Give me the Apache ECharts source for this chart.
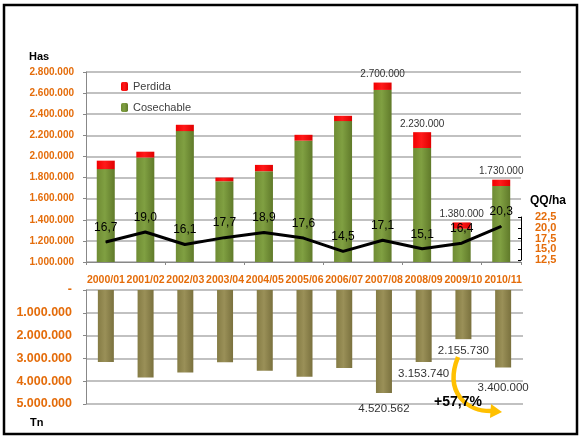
<!DOCTYPE html>
<html>
<head>
<meta charset="utf-8">
<script src="https://cdn.jsdelivr.net/npm/echarts@6/dist/echarts.min.js"></script>
<style>html,body{margin:0;padding:0;background:#fff}#c{width:584px;height:440px}</style>
</head>
<body>
<div id="c"></div>
<script>
var categories = ['2000/01','2001/02','2002/03','2003/04','2004/05','2005/06','2006/07','2007/08','2008/09','2009/10','2010/11'];
var cosechable = [1880000,1990000,2240000,1765000,1860000,2150000,2335000,2630000,2080000,1315000,1720000];
var perdida = [80000,55000,60000,35000,60000,55000,50000,70000,150000,60000,60000];
var totalLabels = ['','','','','','','','2.700.000','2.230.000','1.380.000','1.730.000'];
var rendimiento = [16.7,19.0,16.1,17.7,18.9,17.6,14.5,17.1,15.1,16.4,20.3];
var qqTicks = [12.5,15.0,17.5,20.0,22.5];
var produccion = [3160000,3840000,3620000,3170000,3540000,3800000,3420000,4520562,3153740,2155730,3400000];
var produccionLabels = ['','','','','','','','4.520.562','3.153.740','2.155.730','3.400.000'];
var variacionTexto = '+57,7%';

var orange = '#E46C0A';
var gridColor = '#ADADAD';
var font = 'Liberation Sans, Arial, sans-serif';
function fmtDots(v){ return String(Math.round(v)).replace(/\B(?=(\d{3})+(?!\d))/g,'.'); }
function fmtComma(v){ return v.toFixed(1).replace('.',','); }

var bottomLabelDistance = {7: 10, 10: 14};

// QQ/ha axis: 12.5 -> y 260, 22.5 -> y 217 ; second helper grid extends the same scale by one step each side
var qqTop = 217, qqHeight = 43, qqStep = qqHeight / 4;
var qqOdd = qqTicks.filter(function(v,i){ return i % 2 === 0; });
var qqEven = qqTicks.filter(function(v,i){ return i % 2 === 1; });
var qqLabelStyle = {color: orange, fontWeight: 'bold', fontSize: 11, margin: 14, formatter: fmtComma, fontFamily: font};

var chart = echarts.init(document.getElementById('c'), null, {renderer:'canvas'});
var option = {
  animation: false,
  backgroundColor: '#fff',
  textStyle: {fontFamily: font},
  grid: [
    {left: 86, top: 72, width: 435, height: 190},
    {left: 86, top: 290, width: 437, height: 114},
    {left: 86, top: qqTop, width: 435, height: qqHeight},
    {left: 86, top: qqTop - qqStep, width: 435, height: qqHeight + 2 * qqStep}
  ],
  legend: {
    orient: 'vertical', left: 116, top: 76, itemWidth: 7, itemHeight: 9, itemGap: 10,
    data: ['Perdida','Cosechable'],
    textStyle: {fontSize: 11, color: '#404040', fontFamily: font}
  },
  xAxis: [
    {gridIndex: 0, type: 'category', data: categories,
     axisLine: {lineStyle: {color: '#888', width: 1}},
     axisTick: {show: true, length: 3, lineStyle: {color: '#888'}},
     axisLabel: {show: false}},
    {gridIndex: 1, type: 'category', data: categories, position: 'top',
     axisLine: {show: false}, axisTick: {show: false},
     axisLabel: {color: orange, fontWeight: 'bold', fontSize: 10.5, margin: 4, interval: 0, fontFamily: font}},
    {gridIndex: 2, type: 'category', data: categories, show: false},
    {gridIndex: 3, type: 'category', data: categories, show: false}
  ],
  yAxis: [
    {gridIndex: 0, type: 'value', min: 1000000, max: 2800000, interval: 200000,
     axisLine: {show: true, lineStyle: {color: '#888'}},
     axisTick: {show: true, length: 3, lineStyle: {color: '#888'}},
     splitLine: {lineStyle: {color: gridColor, width: 1.5}},
     axisLabel: {color: orange, fontWeight: 'bold', fontSize: 10, margin: 12, formatter: fmtDots, fontFamily: font}},
    {gridIndex: 1, type: 'value', min: 0, max: 5000000, interval: 1000000, inverse: true,
     axisLine: {show: true, lineStyle: {color: '#888'}},
     axisTick: {show: true, length: 3, lineStyle: {color: '#888'}},
     splitLine: {lineStyle: {color: gridColor, width: 1.5}},
     axisLabel: {color: orange, fontWeight: 'bold', fontSize: 12.5, margin: 14, fontFamily: font,
       formatter: function(v){ return v === 0 ? '-' : fmtDots(v); }}},
    {gridIndex: 2, type: 'value', min: 12.5, max: 22.5, interval: 5, position: 'right',
     axisLine: {show: true, lineStyle: {color: '#000', width: 1}},
     axisTick: {show: true, inside: true, length: 3, lineStyle: {color: '#000'}},
     splitLine: {show: false},
     axisLabel: qqLabelStyle},
    {gridIndex: 3, type: 'value', min: 10, max: 25, interval: 5, position: 'right',
     axisLine: {show: false},
     axisTick: {show: true, inside: true, length: 3, customValues: qqEven, lineStyle: {color: '#000'}},
     splitLine: {show: false},
     axisLabel: Object.assign({customValues: qqEven}, qqLabelStyle)}
  ],
  series: [
    {name: 'Cosechable', type: 'bar', xAxisIndex: 0, yAxisIndex: 0, stack: 'has', barWidth: 18,
     data: cosechable,
     itemStyle: {color: new echarts.graphic.LinearGradient(0,0,1,0,[
       {offset:0,color:'#6f8c34'},{offset:0.45,color:'#80a042'},{offset:1,color:'#607a2a'}])}},
    {name: 'Perdida', type: 'bar', xAxisIndex: 0, yAxisIndex: 0, stack: 'has', barWidth: 18,
     data: perdida,
     itemStyle: {color: new echarts.graphic.LinearGradient(0,0,1,0,[
       {offset:0,color:'#f20000'},{offset:0.45,color:'#ff1a1a'},{offset:1,color:'#e00000'}])},
     label: {show: true, position: 'top', distance: 3, fontSize: 10, color: '#333', fontFamily: font,
       formatter: function(p){ return totalLabels[p.dataIndex]; }}},
    {name: 'Produccion', type: 'bar', xAxisIndex: 1, yAxisIndex: 1, barWidth: 16,
     data: produccion.map(function(v,i){
       var d = {value: v};
       if (bottomLabelDistance[i] !== undefined) d.label = {distance: bottomLabelDistance[i]};
       return d;
     }),
     itemStyle: {color: new echarts.graphic.LinearGradient(0,0,1,0,[
       {offset:0,color:'#857c45'},{offset:0.45,color:'#9a9058'},{offset:1,color:'#7a713e'}])},
     label: {show: true, position: 'bottom', distance: 6, fontSize: 11.5, color: '#333', fontFamily: font,
       formatter: function(p){ return produccionLabels[p.dataIndex]; }}},
    {name: 'QQ/ha', type: 'line', xAxisIndex: 2, yAxisIndex: 2, data: rendimiento,
     symbol: 'circle', symbolSize: 1, showSymbol: true, showAllSymbol: true,
     itemStyle: {color: '#000'},
     lineStyle: {color: '#000', width: 3}, z: 5,
     label: {show: true, position: 'top', distance: 8, fontSize: 12, color: '#000', fontFamily: font,
       formatter: function(p){ return fmtComma(p.value); }}}
  ],
  graphic: [
    {type: 'rect', shape: {x: 4, y: 5, width: 573, height: 429}, style: {fill: 'none', stroke: '#000', lineWidth: 2.5}, silent: true},
    {type: 'text', left: 29, top: 51, style: {text: 'Has', fontSize: 11, fontWeight: 'bold', fill: '#000', fontFamily: font}},
    {type: 'text', left: 30, top: 417, style: {text: 'Tn', fontSize: 11, fontWeight: 'bold', fill: '#000', fontFamily: font}},
    {type: 'text', left: 530, top: 195, style: {text: 'QQ/ha', fontSize: 12, fontWeight: 'bold', fill: '#000', fontFamily: font}},
    {type: 'bezierCurve', shape: {x1: 458, y1: 357, cpx1: 444, cpy1: 392, cpx2: 466, cpy2: 412, x2: 493, y2: 411},
     style: {stroke: '#FFC000', lineWidth: 4.5, fill: 'none'}, z: 10},
    {type: 'polygon', shape: {points: [[491,404],[502,412],[490,418]]}, style: {fill: '#FFC000'}, z: 10},
    {type: 'text', left: 434, top: 395, style: {text: variacionTexto, fontSize: 14, fontWeight: 'bold', fill: '#000', fontFamily: font}, z: 11}
  ]
};
chart.setOption(option);
</script>
</body>
</html>
